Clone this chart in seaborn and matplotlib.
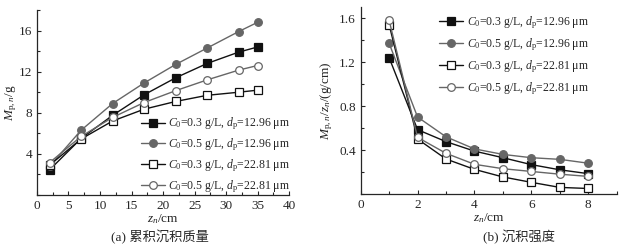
import matplotlib
matplotlib.use("Agg")
import matplotlib.pyplot as plt
import numpy as np
import pandas as pd
import seaborn as sns
from matplotlib.ticker import MultipleLocator

# %% data
z_mass = [2, 7, 12, 17, 22, 27, 32, 35]
mass_03_1296 = [2.45, 5.5, 7.75, 9.75, 11.4, 12.8, 13.9, 14.4]
mass_05_1296 = [2.8, 6.3, 8.9, 10.9, 12.7, 14.3, 15.9, 16.8]
mass_03_2281 = [2.9, 5.45, 7.2, 8.35, 9.1, 9.7, 10.0, 10.2]
mass_05_2281 = [3.15, 5.7, 7.55, 9.0, 10.15, 11.2, 12.15, 12.6]

z_rate = [1, 2, 3, 4, 5, 6, 7, 8]
rate_03_1296 = [1.24, 0.585, 0.476, 0.39, 0.33, 0.267, 0.22, 0.185]
rate_05_1296 = [1.37, 0.70, 0.52, 0.41, 0.36, 0.33, 0.315, 0.28]
rate_03_2281 = [1.54, 0.50, 0.318, 0.224, 0.155, 0.106, 0.06, 0.05]
rate_05_2281 = [1.58, 0.515, 0.37, 0.27, 0.23, 0.205, 0.18, 0.16]

labels = [
    r"$C_0$=0.3 g/L, $d_\mathrm{p}$=12.96 μm",
    r"$C_0$=0.5 g/L, $d_\mathrm{p}$=12.96 μm",
    r"$C_0$=0.3 g/L, $d_\mathrm{p}$=22.81 μm",
    r"$C_0$=0.5 g/L, $d_\mathrm{p}$=22.81 μm",
]

# %% style
sns.set_style("ticks")
plt.rcParams["font.family"] = ["Liberation Serif", "Noto Sans CJK SC"]
plt.rcParams["mathtext.fontset"] = "custom"
plt.rcParams["mathtext.rm"] = "Liberation Serif"
plt.rcParams["mathtext.it"] = "Liberation Serif:italic"
plt.rcParams["font.size"] = 9.5
plt.rcParams["axes.linewidth"] = 0.9
for a in ["x", "y"]:
    plt.rcParams[f"{a}tick.direction"] = "in"
    plt.rcParams[f"{a}tick.major.size"] = 3
    plt.rcParams[f"{a}tick.minor.size"] = 2
    plt.rcParams[f"{a}tick.major.width"] = 0.8
    plt.rcParams[f"{a}tick.minor.width"] = 0.8
    plt.rcParams[f"{a}tick.labelsize"] = 9.5

black = "#111111"
gray = "#666666"
styles = [
    dict(marker="s", color=black, mfc=black, mec=black),
    dict(marker="o", color=gray, mfc=gray, mec=gray),
    dict(marker="s", color=black, mfc="white", mec=black),
    dict(marker="o", color=gray, mfc="white", mec=gray),
]

fig = plt.figure(figsize=(6.29, 2.46), dpi=100)
ax1 = fig.add_axes([0.0588, 0.2073, 0.4007, 0.752])
ax2 = fig.add_axes([0.5734, 0.2114, 0.407, 0.76])


def draw(ax, x, series):
    for ys, lab, st in zip(series, labels, styles):
        df = pd.DataFrame({"z": x, "v": ys})
        sns.lineplot(data=df, x="z", y="v", ax=ax, label=lab,
                     color=st["color"], marker=st["marker"], markersize=5.5,
                     markerfacecolor=st["mfc"], markeredgecolor=st["mec"],
                     markeredgewidth=0.9, linewidth=1.0)
    sns.despine(ax=ax)


leg_kw = dict(frameon=False, fontsize=8.5, handlelength=2.0,
              handletextpad=0.3, borderaxespad=0.2)

draw(ax1, z_mass, [mass_03_1296, mass_05_1296, mass_03_2281, mass_05_2281])
ax1.set_xlim(0, 40)
ax1.set_ylim(0, 18)
ax1.xaxis.set_major_locator(MultipleLocator(5))
ax1.xaxis.set_minor_locator(MultipleLocator(2.5))
ax1.yaxis.set_minor_locator(MultipleLocator(2))
ax1.set_yticks([4, 8, 12, 16])
ax1.set_xlabel(r"$z_n$/cm", labelpad=0, fontsize=9.5)
ax1.set_ylabel(r"$M_{\mathrm{p},n}$/g", fontsize=9.5)
ax1.yaxis.set_label_coords(-0.07, 0.5)
ax1.legend(loc="lower left", bbox_to_anchor=(0.385, -0.04),
           labelspacing=0.36, **leg_kw)

draw(ax2, z_rate, [rate_03_1296, rate_05_1296, rate_03_2281, rate_05_2281])
ax2.set_xlim(0, 9)
ax2.set_ylim(0, 1.7)
ax2.xaxis.set_minor_locator(MultipleLocator(1))
ax2.yaxis.set_minor_locator(MultipleLocator(0.2))
ax2.set_yticks([0.4, 0.8, 1.2, 1.6])
ax2.set_xticks([0, 2, 4, 6, 8])
ax2.set_xlabel(r"$z_n$/cm", labelpad=0, fontsize=9.5)
ax2.set_ylabel(r"$M_{\mathrm{p},n}/z_n$/(g/cm)", fontsize=9.5)
ax2.yaxis.set_label_coords(-0.1, 0.5)
ax2.legend(loc="upper left", bbox_to_anchor=(0.28, 1.0),
           labelspacing=0.45, **leg_kw)

fig.text(0.255, 0.02, "(a) 累积沉积质量", ha="center", fontsize=9.5)
fig.text(0.825, 0.02, "(b) 沉积强度", ha="center", fontsize=9.5)

fig.savefig("out.png", dpi=100)
